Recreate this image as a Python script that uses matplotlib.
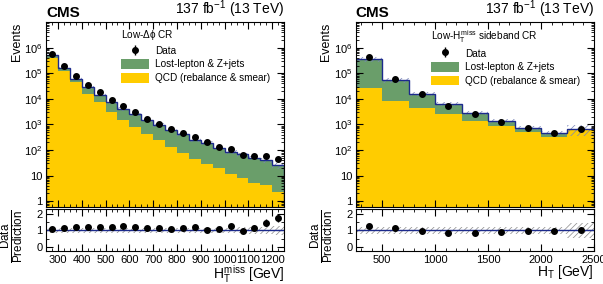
import numpy as np
import matplotlib.pyplot as plt
from matplotlib.patches import Patch
from matplotlib.ticker import FixedLocator, MultipleLocator, LogLocator, NullFormatter

plt.rcParams['font.family'] = ['Liberation Sans', 'DejaVu Sans']
plt.rcParams['mathtext.fontset'] = 'custom'
plt.rcParams['mathtext.rm'] = 'Liberation Sans'
plt.rcParams['mathtext.it'] = 'Liberation Sans'
plt.rcParams['hatch.linewidth'] = 0.5

# left: low-dphi CR, binned in MHT
edges_l = np.arange(250, 1251, 50)
data_l = [5.6e5, 1.85e5, 7.5e4, 3.5e4, 1.8e4, 9.1e3, 5.1e3, 3.0e3, 1.7e3, 1080,
          690, 455, 310, 200, 134, 112, 66, 58, 58, 44]
qcd_l = [4.0e5, 1.25e5, 4.4e4, 1.6e4, 7.3e3, 3.2e3, 1550, 780, 430, 237,
         130, 76, 46, 29, 19, 12, 8, 5.1, 4.2, 2.3]
ewk_l = [1.28e5, 3.4e4, 1.85e4, 1.27e4, 7.5e3, 4.26e3, 2560, 1720, 1040, 727,
         497, 330, 208, 163, 103, 75, 59, 45, 35, 22.7]
unc_l = [0.15, 0.15, 0.15, 0.15, 0.15, 0.15, 0.15, 0.15, 0.15, 0.15,
         0.15, 0.15, 0.16, 0.16, 0.17, 0.17, 0.18, 0.2, 0.22, 0.25]

# right: low-MHT sideband CR, binned in HT
edges_r = np.arange(250, 2501, 250)
data_r = [4.5e5, 6.1e4, 1.5e4, 5.4e3, 2.5e3, 1.3e3, 710, 445, 680]
qcd_r = [2.6e4, 8.5e3, 4.3e3, 2.6e3, 1.4e3, 850, 530, 318, 620]
ewk_r = [3.24e5, 4.5e4, 1.13e4, 3.7e3, 1.5e3, 560, 225, 146, 47]
unc_r = [0.2, 0.2, 0.2, 0.2, 0.2, 0.2, 0.2, 0.2, 0.45]

green = '#6a9e6a'
yellow = '#ffcc00'
navy = '#1c2a8c'

fig = plt.figure(figsize=(6.03, 2.84), dpi=100)


def style(ax):
    ax.tick_params(which='both', direction='in', top=True, right=True, labelsize=8)
    ax.tick_params(which='major', length=5, width=0.8, pad=2.5)
    ax.tick_params(which='minor', length=2.5, width=0.6)
    for s in ax.spines.values():
        s.set_linewidth(0.8)


def panel(left, edges, data, qcd, ewk, unc, title, xlabel, xmajor, xminor, xticks):
    data = np.array(data)
    qcd = np.array(qcd)
    ewk = np.array(ewk)
    unc = np.array(unc)
    tot = qcd + ewk
    centers = 0.5 * (edges[1:] + edges[:-1])

    ax = fig.add_axes([left, 0.271, 0.395, 0.651])
    ax.stairs(tot, edges, baseline=0.01, fill=True, color=green)
    ax.stairs(qcd, edges, baseline=0.01, fill=True, color=yellow)
    ax.stairs(tot * (1 + unc), edges, baseline=tot * (1 - unc), fill=True,
              facecolor='none', edgecolor='#7a86b8', hatch='/////', lw=0)
    ax.stairs(tot, edges, color=navy, lw=1.0)
    ax.errorbar(centers, data, yerr=np.sqrt(data), fmt='o', color='black', ms=4, lw=1)
    ax.set_yscale('log')
    ax.set_ylim(0.59, 1e7)
    ax.set_xlim(edges[0], edges[-1])
    ax.yaxis.set_major_locator(FixedLocator([1, 10, 1e2, 1e3, 1e4, 1e5, 1e6]))
    ax.set_yticklabels(['1', '10', '$10^2$', '$10^3$', '$10^4$', '$10^5$', '$10^6$'])
    ax.yaxis.set_minor_locator(LogLocator(base=10, subs=np.arange(2, 10), numticks=20))
    ax.yaxis.set_minor_formatter(NullFormatter())
    ax.xaxis.set_major_locator(MultipleLocator(xmajor))
    ax.xaxis.set_minor_locator(MultipleLocator(xminor))
    ax.set_xticklabels([])
    style(ax)
    ax.set_ylabel('Events', fontsize=9, loc='top', labelpad=1)
    ax.text(0.0, 1.01, 'CMS', transform=ax.transAxes, fontsize=11, fontweight='bold',
            ha='left', va='bottom')
    ax.text(1.0, 1.01, '137 fb$^{-1}$ (13 TeV)', transform=ax.transAxes, fontsize=10,
            ha='right', va='bottom')

    handles = [ax.errorbar([], [], yerr=[], fmt='o', color='black', ms=4, lw=1),
               Patch(facecolor=green), Patch(facecolor=yellow)]
    labels = ['Data', 'Lost-lepton & Z+jets', 'QCD (rebalance & smear)']
    leg = ax.legend(handles, labels, title=title, loc='upper left',
                    bbox_to_anchor=(0.3, 0.99), frameon=False, fontsize=7.2,
                    title_fontsize=7.2, handlelength=2.8, handleheight=1.1,
                    labelspacing=0.35, borderaxespad=0, handletextpad=0.6)
    leg._legend_box.align = 'left'

    rx = fig.add_axes([left, 0.116, 0.395, 0.148])
    rx.stairs(1 + unc, edges, baseline=1 - unc, fill=True, facecolor='none',
              edgecolor='#8a8a8a', hatch='//////', lw=0)
    rx.axhline(1, color=navy, lw=1.0)
    rx.errorbar(centers, data / tot, yerr=np.sqrt(data) / tot, fmt='o', color='black',
                ms=4, lw=1)
    rx.set_xlim(edges[0], edges[-1])
    rx.set_ylim(-0.25, 2.3)
    rx.yaxis.set_major_locator(FixedLocator([0, 1, 2]))
    rx.yaxis.set_minor_locator(MultipleLocator(0.5))
    rx.xaxis.set_major_locator(FixedLocator(xticks))
    rx.xaxis.set_minor_locator(MultipleLocator(xminor))
    style(rx)
    fig.text(left - 0.055, 0.169, r'$\frac{\mathrm{Data}}{\mathrm{Prediction}}$',
             fontsize=12, rotation=90, ha='center', va='center')
    rx.set_xlabel(xlabel, fontsize=10, loc='right', labelpad=-1)


panel(0.0763, edges_l, data_l, qcd_l, ewk_l, unc_l, r'Low-$\Delta\phi$ CR',
      r'$H_{T}^{miss}$ [GeV]', 100, 25, list(range(300, 1201, 100)))
panel(0.590, edges_r, data_r, qcd_r, ewk_r, unc_r, r'Low-$H_{T}^{miss}$ sideband CR',
      r'$H_{T}$ [GeV]', 500, 100, [500, 1000, 1500, 2000, 2500])

fig.savefig('out.png', dpi=100)
